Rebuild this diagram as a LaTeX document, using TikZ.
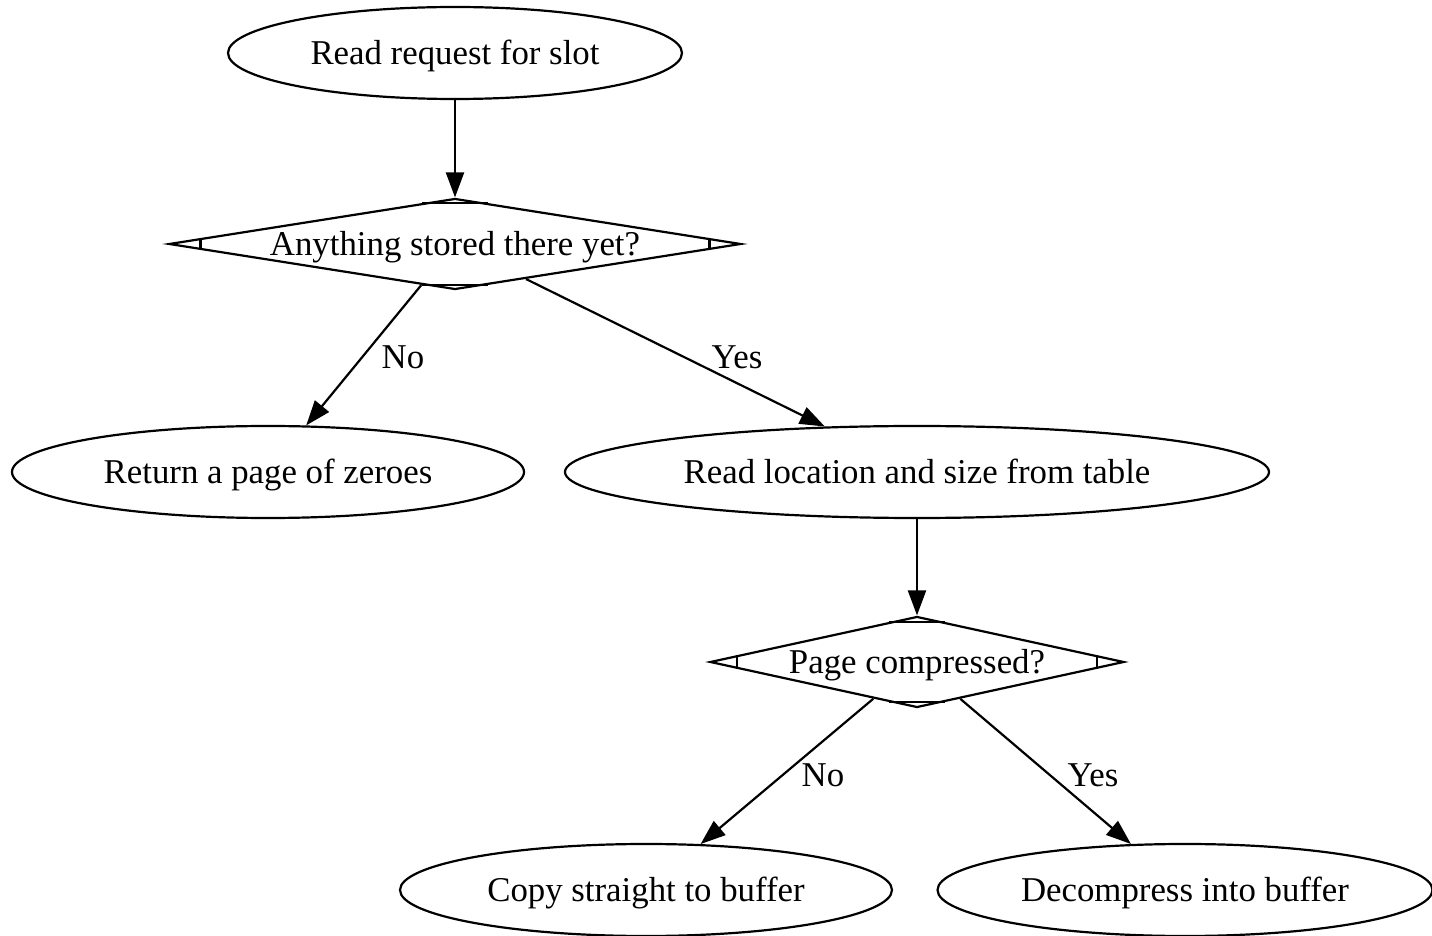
\documentclass[tikz,border=0pt]{standalone}
\usepackage{fontspec}
\setmainfont{Liberation Serif}
\usetikzlibrary{shapes.geometric,arrows.meta,calc}
\begin{document}
\begin{tikzpicture}[x=0.5pt,y=-0.5pt,
  every node/.style={font=\fontsize{17.4}{20}\selectfont,text height=13.5pt,text depth=2pt},
  ell/.style={draw,ellipse,line width=1.1pt,inner sep=0pt,minimum height=46pt},
  dia/.style={draw,diamond,line width=1.1pt,inner sep=0pt,minimum height=45.5pt},
  tick/.style={line width=1.1pt},
  edge/.style={line width=1.1pt,-{Triangle[length=12.5pt,width=9pt]}},
  lbl/.style={inner sep=0pt}]
\useasboundingbox (0,0) rectangle (1432,936);
\node[ell,minimum width=227pt] (A) at (455,53) {Read request for slot};
\node[dia,minimum width=286pt,aspect=6.29] (B) at (455,244) {Anything stored there yet?};
\node[ell,minimum width=256pt] (C) at (268,472) {Return a page of zeroes};
\node[ell,minimum width=352pt] (D) at (917,472) {Read location and size from table};
\node[dia,minimum width=207pt,aspect=4.55] (E) at (917,662) {Page compressed?};
\node[ell,minimum width=246pt] (F) at (646,890) {Copy straight to buffer};
\node[ell,minimum width=247.5pt] (G) at (1185,890) {Decompress into buffer};
% Mdiamond corner ticks
\foreach \n/\d in {B/16.5pt,E/14.5pt}{
  \draw[tick] ($(\n.west)!\d!(\n.north)$) -- ($(\n.west)!\d!(\n.south)$);
  \draw[tick] ($(\n.east)!\d!(\n.north)$) -- ($(\n.east)!\d!(\n.south)$);
  \draw[tick] ($(\n.north)!\d!(\n.west)$) -- ($(\n.north)!\d!(\n.east)$);
  \draw[tick] ($(\n.south)!\d!(\n.west)$) -- ($(\n.south)!\d!(\n.east)$);
}
\draw[edge] (A) -- (B);
\draw[edge] (B) -- (C);
\draw[edge] (B) -- (D);
\draw[edge] (D) -- (E);
\draw[edge] (E) -- (F);
\draw[edge] (E) -- (G);
\node[lbl] (l1) at (403,357) {No};
\node[lbl] (l2) at (737,357) {Yes};
\node[lbl] (l3) at (823,775) {No};
\node[lbl] (l4) at (1093,775) {Yes};
\end{tikzpicture}
\end{document}
